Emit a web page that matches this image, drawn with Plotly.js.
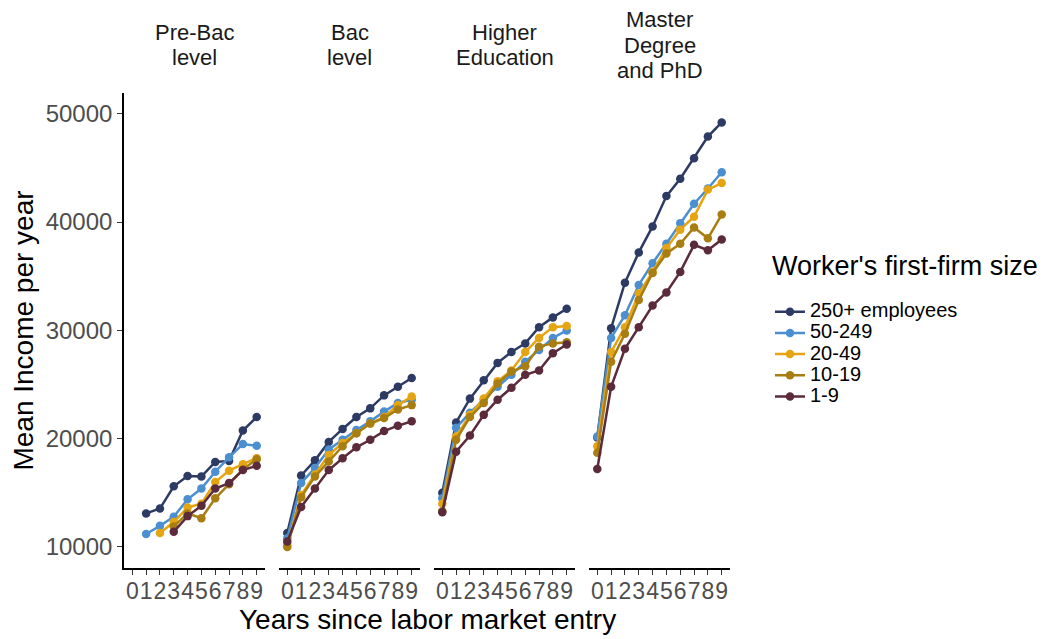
<!DOCTYPE html>
<html>
<head>
<meta charset="utf-8">
<script src="https://cdn.plot.ly/plotly-3.0.1.min.js"></script>
<style>html,body{margin:0;padding:0;background:#fff;}#chart{width:1062px;height:639px;}</style>
</head>
<body>
<div id="chart"></div>
<script>
// ---- data ----
const years = [0, 1, 2, 3, 4, 5, 6, 7, 8, 9];
const yearLabels = ['0','1','2','3','4','5','6','7','8','9'];
const panels = ['Pre-Bac level', 'Bac level', 'Higher Education', 'Master Degree and PhD'];
const panelLines = [['Pre-Bac', 'level'], ['Bac', 'level'], ['Higher', 'Education'], ['Master', 'Degree', 'and PhD']];
const sizes = ['250+ employees', '50-249', '20-49', '10-19', '1-9'];
const colors = ['#2D3A63', '#4B8FD0', '#E5A513', '#A87D12', '#5B2B3B'];
const legendTitle = "Worker's first-firm size";

// Pre-Bac level
const preBac250 = [null, 13100, 13550, 15600, 16550, 16500, 17850, 17950, 20750, 22000];
const preBac50  = [null, 11200, 11950, 12800, 14400, 15400, 16950, 18280, 19500, 19350];
const preBac20  = [null, null, 11300, 12300, 13650, 14000, 16000, 17050, 17650, 18200];
const preBac10  = [null, null, null, 11900, 13100, 12650, 14500, 15800, 17150, 18100];
const preBac1   = [null, null, null, 11400, 12850, 13800, 15400, 15900, 17100, 17500];
// Bac level
const bac250 = [11300, 16600, 18000, 19700, 20900, 22000, 22800, 24000, 24800, 25600];
const bac50  = [10800, 15900, 17300, 19000, 19900, 20800, 21600, 22500, 23300, 23600];
const bac20  = [10200, 14800, 16700, 18500, 19600, 20500, 21400, 22000, 23100, 23900];
const bac10  = [10000, 14600, 16500, 17900, 19300, 20500, 21400, 21900, 22700, 23100];
const bac1   = [10500, 13700, 15400, 17100, 18200, 19200, 19900, 20700, 21200, 21600];
// Higher Education
const higher250 = [15000, 21500, 23700, 25400, 27000, 28000, 28800, 30300, 31200, 32000];
const higher50  = [14500, 21000, 22400, 23600, 24800, 25900, 27100, 28200, 29300, 30000];
const higher20  = [14000, 20200, 22200, 23700, 25300, 26300, 28000, 29300, 30300, 30400];
const higher10  = [13300, 19900, 22000, 23300, 25100, 26200, 26700, 28500, 28800, 28900];
const higher1   = [13200, 18800, 20300, 22200, 23600, 24700, 25900, 26300, 27900, 28700];
// Master Degree and PhD
const master250 = [20100, 30200, 34400, 37200, 39600, 42400, 44000, 45900, 47900, 49200];
const master50  = [20200, 29300, 31400, 34200, 36200, 38000, 39900, 41700, 43100, 44600];
const master20  = [19300, 28000, 30300, 33400, 35400, 37600, 39300, 40500, 43000, 43600];
const master10  = [18700, 27100, 29700, 32800, 35300, 37100, 38000, 39500, 38500, 40700];
const master1   = [17200, 24800, 28300, 30300, 32300, 33500, 35400, 37900, 37400, 38400];

const yTicks = [10000, 20000, 30000, 40000, 50000];

const panelData = [
  [preBac250, preBac50, preBac20, preBac10, preBac1],
  [bac250, bac50, bac20, bac10, bac1],
  [higher250, higher50, higher20, higher10, higher1],
  [master250, master50, master20, master10, master1]
];

// ---- build ----
const FONT = '"Liberation Sans", Arial, Helvetica, sans-serif';
const traces = [];
panelData.forEach((series, p) => {
  series.forEach((vals, s) => {
    traces.push({
      type: 'scatter', mode: 'lines+markers',
      x: years, y: vals,
      xaxis: p === 0 ? 'x' : 'x' + (p + 1), yaxis: 'y',
      name: '<span style="font-size:20px">' + sizes[s] + '</span>',
      legendgroup: sizes[s], showlegend: p === 0,
      line: {color: colors[s], width: 2.5},
      marker: {color: colors[s], size: 8.5},
      connectgaps: false,
      hovertemplate: panels[p] + '<br>' + sizes[s] + '<br>Year %{x}: %{y}<extra></extra>'
    });
  });
});

const plotW = 606;
const doms = [[0, 141], [155, 296], [310, 451], [465, 606]].map(d => [d[0] / plotW, d[1] / plotW]);

const layout = {
  width: 1062, height: 639,
  margin: {l: 124, r: 332, t: 93, b: 71},
  paper_bgcolor: '#fff', plot_bgcolor: '#fff',
  font: {family: FONT, color: '#000'},
  showlegend: true,
  legend: {
    x: 1.066, xanchor: 'left', y: 0.660, yanchor: 'top',
    title: {text: '<span style="font-size:27px">' + legendTitle + '</span><br> ', font: {size: 16, color: '#000'}},
    font: {size: 14, color: '#000'},
    itemwidth: 30, tracegroupgap: 0
  },
  yaxis: {
    range: [8060, 51920], tickvals: yTicks, ticktext: yTicks.map(String),
    showline: true, linecolor: '#000', linewidth: 1.6, mirror: false,
    ticks: 'outside', ticklen: 5, tickcolor: '#333', tickwidth: 1.3,
    tickfont: {size: 24, color: '#4D4D4D'},
    showgrid: false, zeroline: false,
    title: {text: 'Mean Income per year', font: {size: 28, color: '#000'}, standoff: 4}
  },
  annotations: [],
  hovermode: 'closest'
};

doms.forEach((d, p) => {
  const key = p === 0 ? 'xaxis' : 'xaxis' + (p + 1);
  layout[key] = {
    domain: d, anchor: 'y', range: [-0.6, 9.6],
    tickvals: years, ticktext: yearLabels,
    showline: true, linecolor: '#000', linewidth: 1.6,
    ticks: 'outside', ticklen: 5, tickcolor: '#333', tickwidth: 1.3,
    tickfont: {size: 23, color: '#4D4D4D'}, tickangle: 0, ticklabelstandoff: -3,
    showgrid: false, zeroline: false, fixedrange: true
  };
  const lines = panelLines[p];
  const n = lines.length;
  lines.forEach((txt, i) => {
    const ypx = 45 + (i - (n - 1) / 2) * 25;
    layout.annotations.push({
      text: txt, xref: 'paper', yref: 'paper',
      x: (d[0] + d[1]) / 2, y: (568 - ypx) / 475,
      xanchor: 'center', yanchor: 'middle', showarrow: false,
      font: {size: 22, color: '#1A1A1A'}
    });
  });
});

layout.annotations.push({
  text: 'Years since labor market entry', xref: 'paper', yref: 'paper',
  x: 0.5, y: (568 - 619) / 475, xanchor: 'center', yanchor: 'middle',
  showarrow: false, font: {size: 28, color: '#000'}
});

Plotly.newPlot('chart', traces, layout, {displayModeBar: false, staticPlot: false});
</script>
</body>
</html>
